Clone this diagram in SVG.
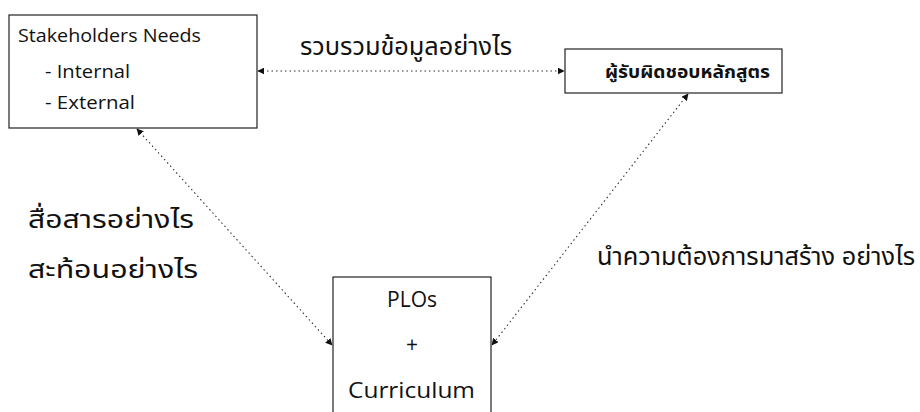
<svg xmlns="http://www.w3.org/2000/svg" width="920" height="412" viewBox="0 0 920 412">
<style>
.box{fill:#fff;stroke:#222;stroke-width:1.2}
.en{font-family:"Open Sans","Noto Sans",sans-serif;fill:#111}
.th{font-family:"Noto Sans","Noto Sans Thai",sans-serif;fill:#111}
.con{fill:none;stroke:#333;stroke-width:1.1;stroke-dasharray:1.5 3}
</style>
<defs>
<marker id="ah" viewBox="0 0 10 10" refX="9" refY="5" markerWidth="7" markerHeight="7" orient="auto-start-reverse" markerUnits="userSpaceOnUse">
<path d="M0,0 L10,5 L0,10 z" fill="#111"/>
</marker>
</defs>
<rect width="920" height="412" fill="#fff"/>
<g id="connectors">
<line class="con" x1="258" y1="71" x2="564" y2="71" marker-start="url(#ah)" marker-end="url(#ah)"/>
<line class="con" x1="137" y1="129" x2="332" y2="345" marker-start="url(#ah)" marker-end="url(#ah)"/>
<line class="con" x1="688" y1="94" x2="492" y2="345" marker-start="url(#ah)" marker-end="url(#ah)"/>
</g>
<g id="stakeholders">
<rect class="box" x="9" y="15" width="248" height="113"/>
<text class="en" x="18" y="42" font-size="19" textLength="183" lengthAdjust="spacingAndGlyphs">Stakeholders Needs</text>
<text class="en" x="45" y="78" font-size="19" textLength="85" lengthAdjust="spacingAndGlyphs">- Internal</text>
<text class="en" x="45" y="109" font-size="19" textLength="90" lengthAdjust="spacingAndGlyphs">- External</text>
</g>
<g id="responsible">
<rect class="box" x="565" y="49" width="217" height="44"/>
<text class="th" x="605" y="78" font-size="18" font-weight="bold" textLength="165" lengthAdjust="spacingAndGlyphs">ผู้รับผิดชอบหลักสูตร</text>
</g>
<g id="plos">
<rect class="box" x="333" y="277" width="158" height="150"/>
<text class="en" x="412" y="307" font-size="21" text-anchor="middle">PLOs</text>
<text class="en" x="412" y="352" font-size="21" text-anchor="middle">+</text>
<text class="en" x="348" y="398" font-size="21" textLength="127" lengthAdjust="spacingAndGlyphs">Curriculum</text>
</g>
<g id="labels">
<text class="th" x="300" y="55" font-size="24" textLength="212" lengthAdjust="spacingAndGlyphs">รวบรวมข้อมูลอย่างไร</text>
<text class="th" x="28" y="228" font-size="25" textLength="166" lengthAdjust="spacingAndGlyphs">สื่อสารอย่างไร</text>
<text class="th" x="28" y="278" font-size="25" textLength="170" lengthAdjust="spacingAndGlyphs">สะท้อนอย่างไร</text>
<text class="th" x="597" y="265" font-size="24" textLength="318" lengthAdjust="spacingAndGlyphs">นำความต้องการมาสร้าง อย่างไร</text>
</g>
</svg>
